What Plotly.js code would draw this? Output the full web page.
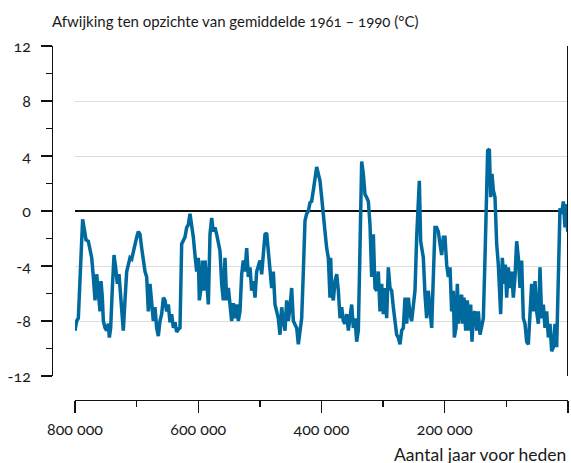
<!DOCTYPE html>
<html>
<head>
<meta charset="utf-8">
<script src="https://cdn.plot.ly/plotly-3.0.1.min.js"></script>
<style>
html,body{margin:0;padding:0;background:#fff;}
#chart{width:571px;height:463px;}
.main-svg text{font-variant-numeric:oldstyle-nums;font-feature-settings:"onum" 1;}
</style>
</head>
<body>
<div id="chart"></div>
<script>
// Years before present
const years = [
800000,797300,794600,791900,789200,787600,785400,782100,778400,775700,772900,770200,767500,764800,762100,759400,757800,755600,754000,751300,748600,745900,744300,742100,739400,736700,734000,731300,728600,725900,723700,721600,718900,716100,713400,710700,708000,705300,702600,699900,697200,694500,691800,689100,686400,683700,681000,678300,675600,672900,670200,667500,664800,662100,659400,656600,
653950,651250,648540,645840,643130,640430,637720,635020,632310,629610,626900,624200,621500,618800,616100,613400,610700,607980,605270,602570,599860,598240,595540,593370,591210,589040,586340,583630,580930,578220,575520,572820,570110,567410,564700,562000,559290,556590,553880,551180,548470,545770,543060,540360,537650,534950,532250,529540,526840,524130,521430,518720,516020,513310,510610,507900,505200,502500,
499790,497090,494380,491680,488970,486270,483560,480860,478150,475450,472750,470040,467340,464630,461930,459220,456520,453810,451110,448410,445700,443000,440290,437590,434880,432180,429470,426770,424060,421360,418660,415950,413250,410540,407840,405130,402430,399720,397020,394310,391610,388910,386200,385120,383500,380790,378090,375380,372680,369970,367270,364570,361860,359160,356450,353750,351040,348340,
345640,342940,340230,337530,334820,332120,329410,326710,324000,321300,318600,315890,313190,310480,307780,305070,302370,299660,296960,294260,291550,288850,286140,283440,280730,278030,275320,272620,269910,267210,264510,261800,259100,256390,253690,250980,248280,245570,242870,241250,239090,237460,234760,232050,229350,226640,223940,221230,218530,215820,213120,210420,207710,205010,202300,199600,196890,194190,
191480,188780,186070,184450,181740,179580,177420,175250,172550,170930,168760,166060,163350,160650,157940,155780,153620,150910,148210,145500,142800,140100,137390,134690,131980,130360,127650,125490,123330,121160,118460,115750,113050,111430,109260,106560,103850,101690,99530,96820,94120,91410,88710,86000,83300,80600,77890,75190,72480,69780,67070,64370,61660,58960,56250,53550,50840,48140,45440,42730,40030,37320,34620,31910,29210,26510,23800,21100,18390,15690,12980,10280,7580,4870,2170,550,0
];
// Temperature anomaly vs 1961-1990 (°C)
const anomaly = [
-8.7,-8.0,-7.8,-5.1,-2.2,-0.6,-1.2,-2.1,-2.2,-2.7,-3.4,-4.8,-6.5,-4.6,-6.1,-7.3,-5.1,-6.3,-8.0,-8.5,-8.7,-8.2,-9.2,-8.5,-5.6,-3.2,-4.1,-5.3,-4.6,-6.1,-6.8,-8.7,-6.5,-4.4,-3.9,-3.4,-3.5,-2.9,-2.2,-1.9,-1.5,-1.7,-2.7,-3.6,-4.4,-4.8,-7.3,-5.3,-7.0,-8.0,-7.0,-8.5,-9.1,-8.0,-7.5,-6.3,
-6.5,-7.3,-6.8,-8.1,-7.5,-8.5,-8.1,-8.8,-8.6,-8.5,-2.4,-2.2,-1.9,-1.2,-1.0,-0.2,-1.0,-1.9,-3.2,-4.4,-3.4,-6.5,-5.6,-3.6,-5.8,-3.6,-5.1,-6.8,-1.7,-0.5,-1.5,-1.2,-1.7,-2.2,-2.9,-5.3,-6.5,-3.4,-6.5,-5.6,-6.8,-8.0,-6.7,-7.8,-6.8,-8.0,-7.3,-4.6,-3.6,-4.4,-2.7,-4.8,-4.1,-5.8,-5.1,-6.3,-4.4,-3.9,
-3.6,-4.6,-3.2,-1.7,-1.6,-2.9,-3.9,-5.6,-4.4,-6.8,-7.3,-7.8,-9.0,-7.0,-8.0,-8.7,-6.5,-8.0,-7.0,-5.6,-8.0,-8.2,-8.5,-9.7,-8.5,-7.8,-4.4,-0.7,-0.2,0.0,0.6,0.7,1.5,2.2,3.2,2.7,2.2,1.0,-0.5,-1.5,-2.7,-3.4,-6.3,-3.4,-5.8,-6.5,-5.1,-4.6,-5.8,-7.8,-7.0,-8.0,-8.2,-7.5,-8.7,-7.8,-6.8,-8.5,
-7.8,-9.5,-8.7,-2.7,3.6,2.7,1.2,1.0,0.7,-1.0,-4.8,-1.7,-5.6,-5.8,-4.4,-7.3,-5.3,-7.5,-5.6,-7.8,-4.1,-5.6,-5.8,-7.0,-7.8,-9.0,-9.2,-9.7,-8.7,-8.5,-6.3,-8.2,-6.3,-7.5,-8.0,-6.8,-5.8,-1.9,1.9,2.2,-2.2,-2.7,-3.4,-6.1,-7.8,-5.8,-7.5,-8.5,-4.8,-1.2,-1.2,-1.5,-2.4,-3.2,-1.9,-1.9,-3.9,-4.8,
-4.1,-7.3,-5.8,-9.2,-8.5,-5.3,-8.2,-6.5,-6.1,-8.2,-6.3,-8.7,-6.5,-8.7,-6.8,-9.5,-7.5,-7.3,-8.7,-7.3,-9.0,-8.2,-7.8,-3.4,1.0,4.4,4.5,1.0,2.7,1.5,1.0,-2.4,-3.9,-5.3,-7.5,-3.4,-5.3,-3.9,-6.3,-4.1,-5.6,-4.4,-6.3,-4.8,-2.2,-3.4,-5.6,-3.6,-7.8,-8.2,-9.5,-9.7,-7.8,-5.3,-7.3,-5.1,-7.3,-8.2,-4.1,-7.8,-6.8,-8.5,-7.3,-9.2,-8.2,-10.2,-9.9,-8.2,-9.9,-3.2,0.2,-0.2,0.7,-1.2,0.5,-1.5,-0.2
];
const xTickVals = [800000, 600000, 400000, 200000, 0];
const xTickText = ['800 000', '600 000', '400 000', '200 000', '0'];
const yTickVals = [-12, -8, -4, 0, 4, 8, 12];
const yTickText = ['-12', '-8', '-4', '0', '4', '8', '12'];

const FONT = 'Lato, "Noto Sans", sans-serif';
const TXT = '#1a1a1a';

const data = [{
  type: 'scatter', mode: 'lines',
  x: years, y: anomaly,
  line: {color: '#006a9e', width: 3.5},
  hoverinfo: 'skip', showlegend: false
}];

const layout = {
  width: 571, height: 463,
  margin: {l: 52, r: 3, t: 46, b: 63},
  paper_bgcolor: '#fff', plot_bgcolor: '#fff',
  font: {family: FONT, size: 16, color: TXT},
  title: {
    text: 'Afwijking ten opzichte van gemiddelde 1961 – 1990 (°C)',
    xref: 'paper', x: 0, xanchor: 'left',
    yref: 'container', y: 0.953, yanchor: 'middle',
    font: {family: FONT, size: 15, color: TXT}
  },
  xaxis: {
    domain: [23/516, 1],
    range: [800000, 0],
    anchor: 'free', position: 0,
    tickvals: xTickVals, ticktext: xTickText,
    ticks: 'outside', ticklen: 12, tickwidth: 1.3, tickcolor: '#111',
    showline: true, linecolor: '#111', linewidth: 1.3,
    showgrid: false, zeroline: false,
    ticklabelstandoff: 2,
    minor: {tickvals: [700000, 500000, 300000, 100000], ticks: 'outside', ticklen: 6, tickcolor: '#111', tickwidth: 1.3, showgrid: false},
    tickfont: {family: FONT, size: 16, color: TXT}
  },
  yaxis: {
    domain: [24/354, 1],
    range: [-12, 12],
    anchor: 'free', position: 0,
    tickvals: yTickVals, ticktext: yTickText,
    ticks: 'outside', ticklen: 11, tickwidth: 1.3, tickcolor: '#111',
    showline: true, linecolor: '#111', linewidth: 1.3,
    showgrid: true, gridcolor: '#dcdcdc', gridwidth: 1,
    zeroline: true, zerolinecolor: '#111', zerolinewidth: 2,
    ticklabelstandoff: 7,
    minor: {tickvals: [-10, -6, -2, 2, 6, 10], ticks: 'outside', ticklen: 6, tickcolor: '#111', tickwidth: 1.3, showgrid: false},
    tickfont: {family: FONT, size: 16, color: TXT}
  },
  shapes: [{
    type: 'line', xref: 'x', yref: 'y',
    x0: 0, x1: 0, y0: -12, y1: 12,
    line: {color: '#111', width: 2}
  }],
  annotations: [{
    text: 'Aantal jaar voor heden',
    xref: 'paper', x: 1, xanchor: 'right',
    yref: 'paper', y: -0.155, yanchor: 'middle',
    showarrow: false,
    font: {family: FONT, size: 17.5, color: TXT}
  }]
};

Plotly.newPlot('chart', data, layout, {displayModeBar: false, staticPlot: true});
</script>
</body>
</html>
